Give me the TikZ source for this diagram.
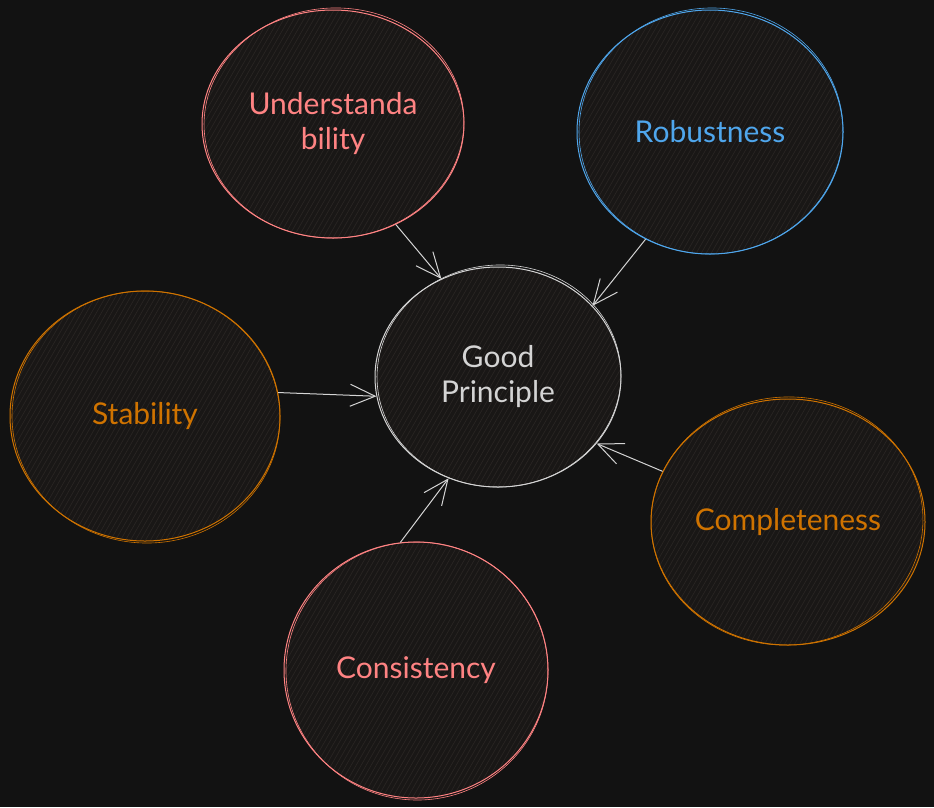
\documentclass[tikz,border=0pt]{standalone}
\usepackage{fontspec}
\setmainfont{Lato}
\usetikzlibrary{shapes.geometric,arrows.meta}
\definecolor{bg}{HTML}{121212}
\definecolor{cfill}{HTML}{191716}
\definecolor{chatch}{HTML}{2A2624}
\definecolor{cred}{HTML}{FF8383}
\definecolor{cblue}{HTML}{4FA6EC}
\definecolor{corange}{HTML}{CF7300}
\definecolor{cgray}{HTML}{D4D4D4}
\tikzset{
  bubble/.style={ellipse, draw=#1, text=#1, fill=cfill, line width=1pt,
    font=\fontsize{30}{35}\selectfont, align=center, inner sep=0pt,
    path picture={
      \path (path picture bounding box.center) coordinate (pc);
      \foreach \s in {-300,-295,...,300}
        \draw[chatch, line width=0.6pt, shift={(pc)}] (\s-80,139) -- (\s+80,-139);
    }},
  sketch/.style={draw=#1, line width=0.6pt},
  arr/.style={draw=cgray, line width=1pt,
    -{Straight Barb[length=25pt, width=22pt, line width=1pt]}}
}
\begin{document}
\begin{tikzpicture}[x=1pt, y=-1pt]
\useasboundingbox[fill=bg] (0,0) rectangle (934,807);
% nodes
\node[bubble=cgray, minimum width=246pt, minimum height=220pt] (g) at (498,377) {Good\\Principle};
\node[bubble=cred, minimum width=262pt, minimum height=228pt] (u) at (333,124) {Understanda\\bility};
\node[bubble=cblue, minimum width=266pt, minimum height=244pt] (r) at (710,132) {Robustness};
\node[bubble=corange, minimum width=270pt, minimum height=250pt] (s) at (145,416) {Stability};
\node[bubble=corange, minimum width=274pt, minimum height=246pt] (cm) at (788,522) {Completeness};
\node[bubble=cred, minimum width=264pt, minimum height=256pt] (cs) at (416,670) {Consistency};
% sketchy second strokes
\draw[sketch=cgray] ([shift={(1,-1)}]g.center) ellipse [x radius=122, y radius=111, rotate=3];
\draw[sketch=cred] ([shift={(1,-1)}]u.center) ellipse [x radius=130, y radius=115, rotate=3];
\draw[sketch=cblue] ([shift={(1,-1)}]r.center) ellipse [x radius=132, y radius=123, rotate=3];
\draw[sketch=corange] ([shift={(1,1)}]s.center) ellipse [x radius=134, y radius=126, rotate=-3];
\draw[sketch=corange] ([shift={(-1,-1)}]cm.center) ellipse [x radius=136, y radius=124, rotate=4];
\draw[sketch=cred] ([shift={(1,1)}]cs.center) ellipse [x radius=131, y radius=129, rotate=-3];
% connectors
\draw[arr] (u.-58) -- (g.120);
\draw[arr] (r.239) -- (g.37);
\draw[arr] (s.10) -- (g.189);
\draw[arr] (cm.158) -- (g.326);
\draw[arr] (cs.97) -- (g.244);
\end{tikzpicture}
\end{document}
